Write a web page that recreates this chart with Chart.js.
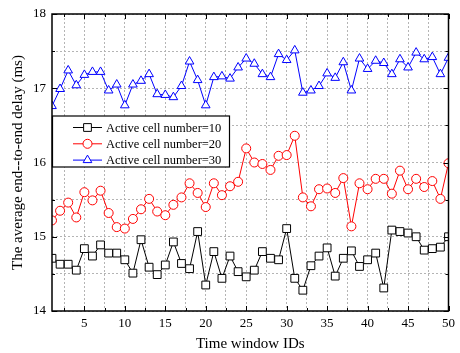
<!DOCTYPE html>
<html lang="en">
<head>
    <meta charset="UTF-8">
    <title>End-to-end delay</title>
    <script src="https://cdn.jsdelivr.net/npm/chart.js"></script>
    <style>
        html, body { margin: 0; padding: 0; background: #fff; }
        #wrap { width: 460px; height: 353px; }
    </style>
</head>
<body>
<div id="wrap"><canvas id="delayChart" width="460" height="353"></canvas></div>
<script>
    // Time window IDs (x axis)
    const timeIds = [1, 2, 3, 4, 5, 6, 7, 8, 9, 10, 11, 12, 13, 14, 15, 16, 17, 18, 19, 20,
        21, 22, 23, 24, 25, 26, 27, 28, 29, 30, 31, 32, 33, 34, 35, 36, 37, 38, 39, 40,
        41, 42, 43, 44, 45, 46, 47, 48, 49, 50];

    // average end-to-end delay (ms)
    const cells10 = [14.71, 14.63, 14.63, 14.55, 14.84, 14.74, 14.89, 14.78, 14.78, 14.69,
        14.51, 14.96, 14.59, 14.49, 14.62, 14.93, 14.64, 14.57, 15.07, 14.35,
        14.80, 14.44, 14.74, 14.53, 14.46, 14.55, 14.80, 14.71, 14.69, 15.11,
        14.44, 14.28, 14.61, 14.74, 14.85, 14.47, 14.71, 14.81, 14.60, 14.69,
        14.78, 14.31, 15.09, 15.07, 15.05, 15.00, 14.82, 14.84, 14.86, 15.00];
    const cells20 = [15.22, 15.35, 15.46, 15.26, 15.60, 15.49, 15.62, 15.32, 15.13, 15.11,
        15.24, 15.37, 15.51, 15.34, 15.29, 15.43, 15.53, 15.72, 15.59, 15.40,
        15.72, 15.56, 15.68, 15.74, 16.19, 16.00, 15.98, 15.90, 16.09, 16.10,
        16.36, 15.53, 15.41, 15.64, 15.65, 15.59, 15.79, 15.14, 15.72, 15.64,
        15.78, 15.78, 15.58, 15.89, 15.64, 15.78, 15.67, 15.75, 15.51, 15.99];
    const cells30 = [16.76, 16.99, 17.24, 17.04, 17.18, 17.22, 17.22, 16.97, 17.05, 16.77,
        17.05, 17.10, 17.19, 16.92, 16.91, 16.88, 17.03, 17.36, 17.11, 16.77,
        17.15, 17.16, 17.13, 17.28, 17.40, 17.33, 17.19, 17.15, 17.46, 17.38,
        17.51, 16.94, 16.97, 17.03, 17.20, 17.14, 17.35, 16.97, 17.40, 17.26,
        17.37, 17.34, 17.19, 17.39, 17.28, 17.48, 17.39, 17.42, 17.19, 17.41];

    const seriesNames = ['Active cell number=10', 'Active cell number=20', 'Active cell number=30'];

    // tick positions (grid every 2.5 / 0.5, labels on the whole ones)
    const xTickVals = [2.5, 5, 7.5, 10, 12.5, 15, 17.5, 20, 22.5, 25, 27.5, 30, 32.5, 35, 37.5, 40, 42.5, 45, 47.5, 50];
    const xTickLabels = ['5', '10', '15', '20', '25', '30', '35', '40', '45', '50'];
    const yTickVals = [14, 14.5, 15, 15.5, 16, 16.5, 17, 17.5, 18];
    const yTickLabels = ['14', '15', '16', '17', '18'];

    const serif = 'Liberation Serif';

    function toPoints(vals) {
        return timeIds.map((t, i) => ({ x: t, y: vals[i] }));
    }

    function makeSet(label, vals, color, style, radius) {
        return {
            label: label,
            data: toPoints(vals),
            borderColor: color,
            borderWidth: 1,
            backgroundColor: '#fff',
            pointStyle: style,
            pointRadius: radius,
            pointHoverRadius: radius,
            pointBorderColor: color,
            pointBackgroundColor: '#fff',
            pointBorderWidth: 1,
            tension: 0,
            fill: false
        };
    }

    // box around the plot with inward tick marks on all four sides
    const frameTicks = {
        id: 'frameTicks',
        afterDatasetsDraw(chart) {
            const { ctx, chartArea: a, scales: { x, y } } = chart;
            ctx.save();
            ctx.strokeStyle = '#000';
            ctx.lineWidth = 1;
            ctx.beginPath();
            xTickVals.forEach(v => {
                const px = Math.round(x.getPixelForValue(v)) + 0.5;
                const len = v % 5 === 0 ? 5 : 3;
                ctx.moveTo(px, a.bottom); ctx.lineTo(px, a.bottom - len);
                ctx.moveTo(px, a.top); ctx.lineTo(px, a.top + len);
            });
            yTickVals.forEach(v => {
                const py = Math.round(y.getPixelForValue(v)) + 0.5;
                const len = v % 1 === 0 ? 5 : 3;
                ctx.moveTo(a.left, py); ctx.lineTo(a.left + len, py);
                ctx.moveTo(a.right, py); ctx.lineTo(a.right - len, py);
            });
            ctx.stroke();
            ctx.lineWidth = 1.5;
            ctx.strokeRect(a.left, a.top, a.right - a.left, a.bottom - a.top);
            ctx.restore();
        }
    };

    // legend box inside the plot, upper left
    const boxLegend = {
        id: 'boxLegend',
        afterDraw(chart) {
            const { ctx, chartArea: a } = chart;
            const left = a.left + 0.5, top = 116, w = 177, h = 51;
            ctx.save();
            ctx.fillStyle = '#fff';
            ctx.fillRect(left, top, w, h);
            ctx.strokeStyle = '#000';
            ctx.lineWidth = 1.2;
            ctx.strokeRect(left, top, w, h);
            ctx.font = '12.5px "' + serif + '"';
            ctx.textBaseline = 'middle';
            chart.data.datasets.forEach((ds, i) => {
                const cy = top + 11.5 + i * 16.3;
                ctx.strokeStyle = ds.borderColor;
                ctx.lineWidth = 1;
                ctx.beginPath();
                ctx.moveTo(73, cy); ctx.lineTo(102, cy);
                ctx.stroke();
                ctx.fillStyle = '#fff';
                Chart.helpers.drawPoint(ctx, {
                    pointStyle: ds.pointStyle, radius: ds.pointRadius, borderWidth: 1
                }, 87.5, cy);
                ctx.fillStyle = '#000';
                ctx.fillText(ds.label, 106, cy + 1);
            });
            ctx.restore();
        }
    };

    const ctx = document.getElementById('delayChart').getContext('2d');
    new Chart(ctx, {
        type: 'line',
        data: {
            datasets: [
                makeSet(seriesNames[0], cells10, '#000000', 'rect', 5.5),
                makeSet(seriesNames[1], cells20, '#ff0000', 'circle', 4.5),
                makeSet(seriesNames[2], cells30, '#0000ff', 'triangle', 5)
            ]
        },
        options: {
            responsive: false,
            animation: false,
            layout: { padding: { left: 0, top: 14, right: 6, bottom: 0 } },
            plugins: { legend: { display: false }, tooltip: { enabled: false } },
            scales: {
                x: {
                    type: 'linear',
                    min: 1,
                    max: 50,
                    afterBuildTicks: s => { s.ticks = xTickVals.map(v => ({ value: v })); },
                    afterFit: s => { s.height = 42; },
                    grid: { color: '#b4b4b4', lineWidth: 1, drawTicks: false },
                    border: { display: false, dash: [2, 2] },
                    ticks: {
                        padding: 5,
                        color: '#000',
                        font: { family: serif, size: 13 },
                        maxRotation: 0,
                        autoSkip: false,
                        callback: v => (v % 5 === 0 ? xTickLabels[v / 5 - 1] : '')
                    },
                    title: {
                        display: true,
                        text: 'Time window IDs',
                        color: '#000',
                        font: { family: serif, size: 15 },
                        padding: { top: 0, bottom: 0 }
                    }
                },
                y: {
                    min: 14,
                    max: 18,
                    afterBuildTicks: s => { s.ticks = yTickVals.map(v => ({ value: v })); },
                    afterFit: s => { s.width = 52; },
                    grid: { color: '#b4b4b4', lineWidth: 1, drawTicks: false },
                    border: { display: false, dash: [2, 2] },
                    ticks: {
                        padding: 6,
                        color: '#000',
                        font: { family: serif, size: 13 },
                        autoSkip: false,
                        callback: v => (v % 1 === 0 ? yTickLabels[v - 14] : '')
                    },
                    title: {
                        display: true,
                        text: 'The average end--to-end delay (ms)',
                        color: '#000',
                        font: { family: serif, size: 15 },
                        padding: { top: 9, bottom: 0 }
                    }
                }
            }
        },
        plugins: [frameTicks, boxLegend]
    });
</script>
</body>
</html>
